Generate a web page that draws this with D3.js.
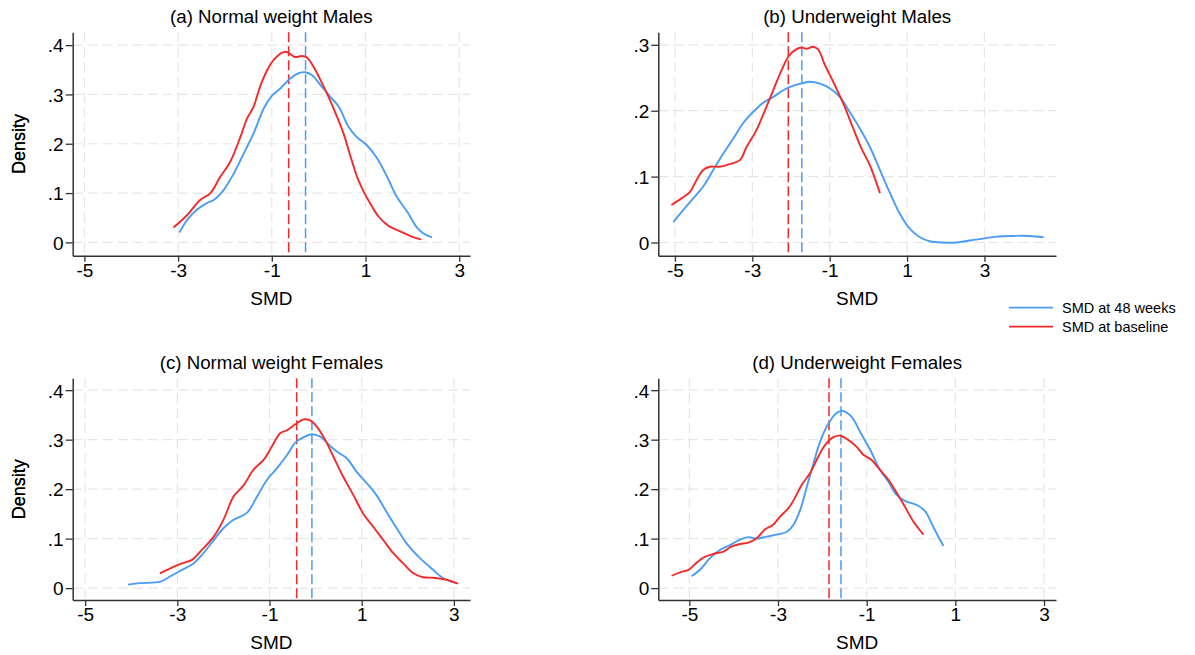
<!DOCTYPE html>
<html>
<head>
<meta charset="utf-8">
<script src="https://cdn.jsdelivr.net/npm/d3@7"></script>
<style>
  body { margin: 0; background: #fff; }
  svg { font-family: Arial, "Liberation Sans", sans-serif; }
</style>
</head>
<body>
<div id="chart-area"></div>
<script>
// series: [SMD, density] pairs
var baselineA = [[-3.10,0.030],[-2.81,0.055],[-2.53,0.086],[-2.31,0.100],[-2.10,0.133],[-1.89,0.163],[-1.67,0.214],[-1.53,0.251],[-1.39,0.275],[-1.25,0.316],[-1.10,0.349],[-0.96,0.370],[-0.78,0.385],[-0.68,0.386],[-0.50,0.376],[-0.36,0.378],[-0.25,0.375],[-0.11,0.356],[0.04,0.329],[0.21,0.295],[0.39,0.255],[0.53,0.221],[0.68,0.174],[0.82,0.133],[0.96,0.103],[1.10,0.079],[1.28,0.052],[1.50,0.033],[1.75,0.022],[2.00,0.011],[2.19,0.006]];
var weeks48A = [[-2.97,0.020],[-2.81,0.045],[-2.60,0.066],[-2.38,0.080],[-2.24,0.086],[-2.03,0.106],[-1.81,0.140],[-1.60,0.180],[-1.39,0.221],[-1.17,0.272],[-1.00,0.297],[-0.82,0.312],[-0.60,0.333],[-0.43,0.343],[-0.28,0.345],[-0.14,0.339],[0.04,0.319],[0.25,0.295],[0.43,0.275],[0.64,0.234],[0.82,0.213],[1.03,0.197],[1.25,0.170],[1.46,0.133],[1.67,0.092],[1.89,0.062],[2.10,0.030],[2.24,0.018],[2.42,0.010]];

var baselineB = [[-5.09,0.057],[-4.83,0.067],[-4.61,0.077],[-4.44,0.095],[-4.27,0.110],[-4.10,0.115],[-3.84,0.115],[-3.58,0.119],[-3.32,0.125],[-3.15,0.145],[-2.89,0.171],[-2.67,0.201],[-2.46,0.231],[-2.24,0.262],[-2.07,0.282],[-1.90,0.292],[-1.73,0.296],[-1.60,0.294],[-1.43,0.297],[-1.30,0.293],[-1.12,0.269],[-0.91,0.244],[-0.65,0.211],[-0.39,0.173],[-0.18,0.143],[0.04,0.117],[0.30,0.075]];
var weeks48B = [[-5.04,0.031],[-4.79,0.049],[-4.53,0.067],[-4.27,0.085],[-4.01,0.110],[-3.75,0.135],[-3.49,0.158],[-3.24,0.181],[-2.98,0.198],[-2.72,0.212],[-2.46,0.221],[-2.20,0.231],[-1.94,0.238],[-1.68,0.242],[-1.51,0.244],[-1.25,0.241],[-1.00,0.234],[-0.74,0.221],[-0.48,0.198],[-0.22,0.173],[0.04,0.145],[0.30,0.110],[0.56,0.075],[0.81,0.044],[1.07,0.021],[1.33,0.008],[1.59,0.002],[1.93,0.000],[2.28,0.000],[2.62,0.003],[2.96,0.006],[3.31,0.009],[3.74,0.010],[4.17,0.010],[4.53,0.008]];

var baselineC = [[-3.38,0.030],[-3.15,0.040],[-2.90,0.050],[-2.68,0.057],[-2.50,0.074],[-2.21,0.104],[-2.00,0.138],[-1.78,0.185],[-1.56,0.208],[-1.35,0.239],[-1.13,0.259],[-0.95,0.286],[-0.77,0.313],[-0.62,0.319],[-0.44,0.331],[-0.26,0.341],[-0.12,0.339],[0.03,0.326],[0.21,0.299],[0.39,0.265],[0.60,0.225],[0.82,0.188],[1.03,0.151],[1.25,0.124],[1.47,0.097],[1.68,0.071],[1.90,0.050],[2.12,0.030],[2.33,0.022],[2.55,0.021],[2.84,0.017],[3.09,0.009]];
var weeks48C = [[-4.07,0.007],[-3.80,0.010],[-3.37,0.013],[-3.15,0.024],[-2.90,0.037],[-2.65,0.050],[-2.43,0.071],[-2.21,0.097],[-2.00,0.121],[-1.78,0.138],[-1.49,0.152],[-1.27,0.185],[-1.06,0.218],[-0.84,0.242],[-0.62,0.269],[-0.44,0.294],[-0.26,0.305],[-0.08,0.311],[0.10,0.306],[0.32,0.287],[0.46,0.276],[0.68,0.262],[0.89,0.235],[1.11,0.212],[1.32,0.188],[1.54,0.154],[1.76,0.121],[1.97,0.091],[2.26,0.061],[2.55,0.037],[2.77,0.020],[3.06,0.010]];

var baselineD = [[-5.40,0.025],[-5.21,0.032],[-5.02,0.037],[-4.83,0.052],[-4.65,0.063],[-4.46,0.069],[-4.23,0.074],[-4.05,0.084],[-3.86,0.089],[-3.67,0.092],[-3.48,0.101],[-3.29,0.119],[-3.11,0.128],[-2.95,0.145],[-2.77,0.161],[-2.62,0.182],[-2.47,0.208],[-2.28,0.232],[-2.09,0.266],[-1.94,0.289],[-1.75,0.305],[-1.60,0.308],[-1.41,0.299],[-1.23,0.286],[-1.08,0.270],[-0.89,0.259],[-0.70,0.239],[-0.51,0.219],[-0.32,0.192],[-0.14,0.165],[0.05,0.135],[0.28,0.108]];
var weeks48D = [[-4.95,0.024],[-4.76,0.037],[-4.53,0.061],[-4.31,0.077],[-4.08,0.087],[-3.86,0.098],[-3.67,0.103],[-3.48,0.100],[-3.26,0.104],[-3.03,0.108],[-2.80,0.114],[-2.65,0.128],[-2.50,0.158],[-2.35,0.205],[-2.20,0.252],[-2.05,0.296],[-1.86,0.333],[-1.68,0.354],[-1.53,0.358],[-1.34,0.346],[-1.15,0.316],[-0.92,0.279],[-0.70,0.239],[-0.51,0.215],[-0.32,0.188],[-0.10,0.175],[0.13,0.168],[0.32,0.155],[0.50,0.124],[0.73,0.085]];

// mean lines (SMD)
var meanBaseline = [-0.64, -2.07, -0.41, -1.85];
var mean48 = [-0.28, -1.72, -0.08, -1.58];

var titles = ["(a) Normal weight Males", "(b) Underweight Males", "(c) Normal weight Females", "(d) Underweight Females"];
var xTicks = [-5, -3, -1, 1, 3];
var yTicksA = [0, 0.1, 0.2, 0.3, 0.4];
var yTicksB = [0, 0.1, 0.2, 0.3];
var legendLabels = ["SMD at 48 weeks", "SMD at baseline"];

var blue = "#4a9cf4", red = "#f42a2a";

var panels = [
  { left: 72.7, top: 32.3, w: 397.3, h: 223.4, xd: [-5.25, 3.23], yd: [-0.027, 0.426], yt: yTicksA, base: baselineA, wk: weeks48A },
  { left: 658.3, top: 32.3, w: 397.7, h: 223.4, xd: [-5.43, 4.85], yd: [-0.020, 0.319], yt: yTicksB, base: baselineB, wk: weeks48B },
  { left: 72.7, top: 378.3, w: 397.3, h: 221.7, xd: [-5.27, 3.35], yd: [-0.024, 0.424], yt: yTicksA, base: baselineC, wk: weeks48C },
  { left: 658.3, top: 378.3, w: 397.7, h: 221.7, xd: [-5.70, 3.27], yd: [-0.024, 0.424], yt: yTicksA, base: baselineD, wk: weeks48D }
];

var svg = d3.select("#chart-area")
  .append("svg")
  .attr("width", 1195)
  .attr("height", 655);

var fmtY = function (d) { return d === 0 ? "0" : d3.format(".1f")(d).replace(/^0/, ""); };

panels.forEach(function (p, i) {
  var g = svg.append("g").attr("transform", "translate(" + p.left + "," + p.top + ")");
  var x = d3.scaleLinear().domain(p.xd).range([0, p.w]);
  var y = d3.scaleLinear().domain(p.yd).range([p.h, 0]);

  // grid
  g.selectAll(".hg").data(p.yt).enter().append("line")
    .attr("x1", 0).attr("x2", p.w)
    .attr("y1", function (d) { return y(d); }).attr("y2", function (d) { return y(d); })
    .attr("stroke", "#e6e6e6").attr("stroke-width", 1.2).attr("stroke-dasharray", "10,5");
  g.selectAll(".vg").data(xTicks).enter().append("line")
    .attr("y1", 0).attr("y2", p.h)
    .attr("x1", function (d) { return x(d); }).attr("x2", function (d) { return x(d); })
    .attr("stroke", "#e6e6e6").attr("stroke-width", 1.2).attr("stroke-dasharray", "10,5");

  var line = d3.line()
    .x(function (d) { return x(d[0]); })
    .y(function (d) { return y(d[1]); })
    .curve(d3.curveCatmullRom);

  // mean lines
  g.append("line")
    .attr("x1", x(meanBaseline[i])).attr("x2", x(meanBaseline[i]))
    .attr("y1", 0).attr("y2", p.h)
    .attr("stroke", red).attr("stroke-width", 1.5).attr("stroke-dasharray", "10,4");
  g.append("line")
    .attr("x1", x(mean48[i])).attr("x2", x(mean48[i]))
    .attr("y1", 0).attr("y2", p.h)
    .attr("stroke", blue).attr("stroke-width", 1.5).attr("stroke-dasharray", "10,4");

  g.append("path").datum(p.wk).attr("d", line)
    .attr("fill", "none").attr("stroke", blue).attr("stroke-width", 1.9);
  g.append("path").datum(p.base).attr("d", line)
    .attr("fill", "none").attr("stroke", red).attr("stroke-width", 1.9);

  // axes
  var ax = g.append("g").attr("transform", "translate(0," + p.h + ")")
    .call(d3.axisBottom(x).tickValues(xTicks).tickSize(6).tickPadding(2).tickSizeOuter(0)
      .tickFormat(function (d) { return String(d); }));
  var ay = g.append("g")
    .call(d3.axisLeft(y).tickValues(p.yt).tickSize(7).tickPadding(2).tickSizeOuter(0)
      .tickFormat(fmtY));
  [ax, ay].forEach(function (a) {
    a.select(".domain").attr("stroke", "#333").attr("stroke-width", 1.5);
    a.selectAll(".tick line").attr("stroke", "#333").attr("stroke-width", 1.3);
    a.selectAll(".tick text").attr("fill", "#000").style("font-size", "19px")
      .style("font-family", "Arial, 'Liberation Sans', sans-serif");
  });
  ay.selectAll(".tick text").attr("dy", "0.36em");

  g.append("text")
    .attr("x", p.w / 2).attr("y", -9)
    .attr("text-anchor", "middle")
    .style("font-size", "18.7px").attr("fill", "#000")
    .text(titles[i]);

  g.append("text")
    .attr("x", p.w / 2).attr("y", p.h + 49)
    .attr("text-anchor", "middle")
    .style("font-size", "19px").attr("fill", "#000")
    .text("SMD");

  g.append("text")
    .attr("transform", "translate(" + (-p.left + 25) + "," + (p.h / 2) + ") rotate(-90)")
    .attr("text-anchor", "middle")
    .style("font-size", "18px").attr("fill", "#000")
    .text("Density");
});

// legend
var legend = svg.append("g").attr("transform", "translate(1009,307.7)");
[blue, red].forEach(function (c, i) {
  legend.append("line")
    .attr("x1", 0).attr("x2", 44)
    .attr("y1", i * 19).attr("y2", i * 19)
    .attr("stroke", c).attr("stroke-width", 1.8);
  legend.append("text")
    .attr("x", 53).attr("y", i * 19 + 5)
    .style("font-size", "14.5px").attr("fill", "#000")
    .text(legendLabels[i]);
});
</script>
</body>
</html>
